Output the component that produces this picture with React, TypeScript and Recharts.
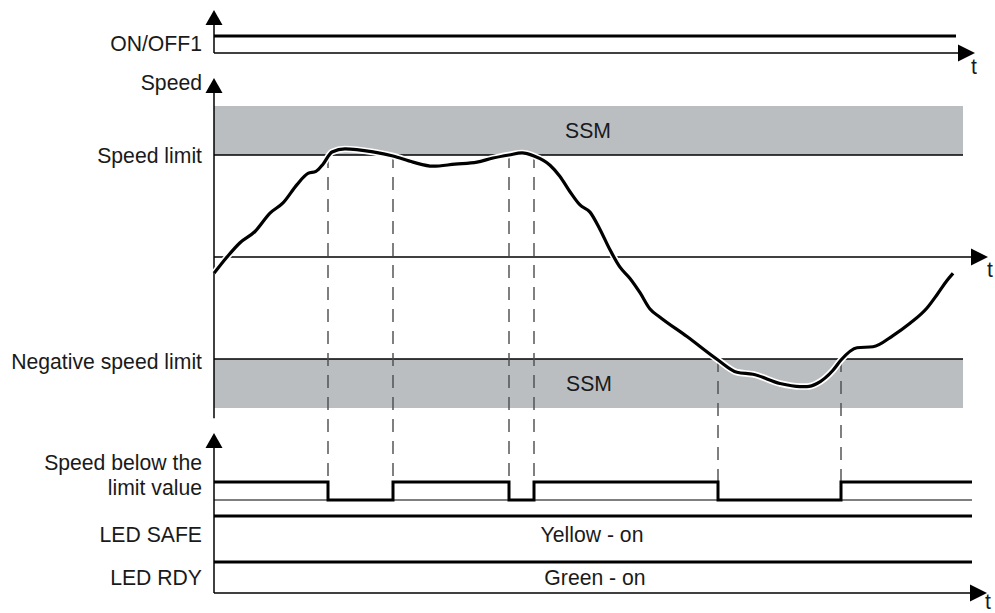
import React from "react";
import {
	ComposedChart,
	Line,
	XAxis,
	YAxis,
	ReferenceArea,
	ReferenceLine,
	ReferenceDot,
} from "recharts";

const W = 995;
const H = 613;

// speed trace, t in drawing time units, speed in % of the limit
const speedT = [
	0, 1.3, 2.6, 4.1, 5.6, 6.9, 8.3, 9.4, 10.2, 10.9, 11.8, 13.1, 15.9, 17.9,
	19.9, 21.9, 24.1, 26.3, 27.9, 29.5, 30.8, 32.0, 33.6, 34.6, 35.6, 36.6, 37.6,
	38.6, 39.6, 40.6, 41.6, 42.6, 43.6, 44.6, 47.3, 50.4, 52.3, 53.9, 56.6, 58.6,
	59.3, 60.3, 61.9, 62.7, 64.3, 65.9, 67.9, 69.6, 71.3, 72.3, 73.3, 73.9,
];
const speedV = [
	-16, 0, 14, 25, 43, 53, 71, 82, 84, 91, 103, 106, 103, 99, 93, 89, 91, 93, 97,
	100, 102, 99, 90, 79, 64, 51, 44, 27, 7, -10, -21, -35, -51, -59, -78, -101,
	-113, -115, -124, -127, -127, -124, -111, -101, -89, -88, -77, -65, -50, -37,
	-23, -16,
];

const SPEED_LIMIT = 100;
const SSM_EDGE = 148;

// moments the speed crosses a limit (dashed markers)
const crossT = [11.4, 17.9, 29.5, 32.0, 50.4, 62.7];
const crossAt = [100, 100, 100, 100, -100, -100];

// "speed below the limit value" signal
const belowT = [0, 11.4, 17.9, 29.5, 32.0, 50.4, 62.7, 75.8];
const belowV = [1, 0, 1, 0, 1, 0, 1, 1];

const onOffT = [0, 74.2];
const onOffV = [1, 1];
const ledT = [0, 75.8];
const safeV = [1, 1];
const rdyV = [1, 1];

const SSM_END = 74.9;

const toRows = (t: number[], v: number[]) => t.map((x, i) => ({ t: x, v: v[i] }));
const speedData = toRows(speedT, speedV);
const belowData = toRows(belowT, belowV);
const onOffData = toRows(onOffT, onOffV);
const safeData = toRows(ledT, safeV);
const rdyData = toRows(ledT, rdyV);

// y domain so value a sits at pixel pa and value b at pixel pb
const fit = (a: number, pa: number, b: number, pb: number): [number, number] => {
	const k = (a - b) / (pb - pa);
	const max = a + pa * k;
	return [max - H * k, max];
};
const pix = (d: [number, number], v: number) => ((d[1] - v) / (d[1] - d[0])) * H;
const val = (d: [number, number], p: number) => d[1] - (p * (d[1] - d[0])) / H;

const X_DOMAIN: [number, number] = [-21.4, 78.1];
const ONOFF_D = fit(1, 36, 0, 53);
const SPEED_D = fit(100, 155, -100, 359);
const BELOW_D = fit(1, 482, 0, 500);
const SAFE_D = fit(1, 516, 0, 562);
const RDY_D = fit(1, 562, 0, 593);

const dashBottom = val(SPEED_D, pix(BELOW_D, 1));

const FONT = "'Liberation Sans', Arial, Helvetica, sans-serif";
const FS = 21.2;

const upArrow = (p: any) => (
	<polygon
		points={`${p.cx},${p.cy} ${p.cx - 8.5},${p.cy + 15} ${p.cx + 8.5},${p.cy + 15}`}
		fill="#000"
	/>
);
const rightArrow = (p: any) => (
	<polygon
		points={`${p.cx},${p.cy} ${p.cx - 17},${p.cy - 8.5} ${p.cx - 17},${p.cy + 8.5}`}
		fill="#000"
	/>
);
const txt =
	(s: string, anchor: "start" | "middle" | "end" = "end") =>
	(p: any) => (
		<text
			x={p.cx}
			y={p.cy}
			textAnchor={anchor}
			dominantBaseline="central"
			fontFamily={FONT}
			fontSize={FS}
			fill="#1a1a1a"
		>
			{s}
		</text>
	);

const seg = (id: string, x1: number, y1: number, x2: number, y2: number, w = 1.5) => (
	<ReferenceLine
		key={`${id}-${x1}-${y1}-${x2}-${y2}`}
		yAxisId={id}
		segment={[
			{ x: x1, y: y1 },
			{ x: x2, y: y2 },
		]}
		stroke="#000"
		strokeWidth={w}
		ifOverflow="visible"
	/>
);
const dot = (id: string, x: number, y: number, shape: any, k: string) => (
	<ReferenceDot
		key={k}
		yAxisId={id}
		x={x}
		y={y}
		r={0}
		shape={shape}
		ifOverflow="visible"
	/>
);

const LABEL_T = -1.2;

const App: React.FC = () => {
	return (
		<div style={{ position: "absolute", left: 0, top: 0, width: W, height: H, background: "#fff" }}>
			<ComposedChart width={W} height={H} margin={{ top: 0, right: 0, bottom: 0, left: 0 }}>
				<XAxis dataKey="t" type="number" domain={X_DOMAIN} allowDataOverflow hide />
				<YAxis yAxisId="onoff" type="number" domain={ONOFF_D} allowDataOverflow hide />
				<YAxis yAxisId="speed" type="number" domain={SPEED_D} allowDataOverflow hide />
				<YAxis yAxisId="below" type="number" domain={BELOW_D} allowDataOverflow hide />
				<YAxis yAxisId="safe" type="number" domain={SAFE_D} allowDataOverflow hide />
				<YAxis yAxisId="rdy" type="number" domain={RDY_D} allowDataOverflow hide />

				{/* SSM bands */}
				<ReferenceArea
					yAxisId="speed"
					x1={0}
					x2={SSM_END}
					y1={SPEED_LIMIT}
					y2={SSM_EDGE}
					fill="#bbbec1"
					fillOpacity={1}
					stroke="none"
					ifOverflow="visible"
				/>
				<ReferenceArea
					yAxisId="speed"
					x1={0}
					x2={SSM_END}
					y1={-SSM_EDGE}
					y2={-SPEED_LIMIT}
					fill="#bbbec1"
					fillOpacity={1}
					stroke="none"
					ifOverflow="visible"
				/>
				{seg("speed", 0, SPEED_LIMIT, SSM_END, SPEED_LIMIT)}
				{seg("speed", 0, -SPEED_LIMIT, SSM_END, -SPEED_LIMIT)}

				{/* axes */}
				{seg("onoff", 0, 0, 0, 1.7)}
				{seg("onoff", 0, 0, 74.4, 0)}
				{dot("onoff", 0, 2.53, upArrow, "a1")}
				{dot("onoff", 76.1, 0, rightArrow, "a2")}

				{seg("speed", 0, -158, 0, 162)}
				{seg("speed", 0, 0, 75.8, 0)}
				{dot("speed", 0, 175.5, upArrow, "a3")}
				{dot("speed", 77.4, 0, rightArrow, "a4")}

				{seg("rdy", 0, 0, 0, 4.71)}
				{seg("rdy", 0, 0, 75.6, 0)}
				{dot("rdy", 0, 5.16, upArrow, "a5")}
				{dot("rdy", 77.3, 0, rightArrow, "a6")}
				{seg("below", 0, 0, 75.8, 0, 1.2)}

				{/* limit crossings */}
				{crossT.map((t, i) => (
					<ReferenceLine
						key={`d${i}`}
						yAxisId="speed"
						segment={[
							{ x: t, y: crossAt[i] },
							{ x: t, y: dashBottom },
						]}
						stroke="#4a4a4a"
						strokeWidth={1.4}
						strokeDasharray="13 9"
						ifOverflow="visible"
					/>
				))}

				<Line
					data={speedData}
					dataKey="v"
					yAxisId="speed"
					type="monotone"
					stroke="#fff"
					strokeWidth={6.5}
					dot={false}
					activeDot={false}
					isAnimationActive={false}
				/>
				<Line
					data={speedData}
					dataKey="v"
					yAxisId="speed"
					type="monotone"
					stroke="#000"
					strokeWidth={3.2}
					dot={false}
					activeDot={false}
					isAnimationActive={false}
				/>
				<Line
					data={onOffData}
					dataKey="v"
					yAxisId="onoff"
					type="linear"
					stroke="#000"
					strokeWidth={3}
					dot={false}
					activeDot={false}
					isAnimationActive={false}
				/>
				<Line
					data={belowData}
					dataKey="v"
					yAxisId="below"
					type="stepAfter"
					stroke="#000"
					strokeWidth={3}
					dot={false}
					activeDot={false}
					isAnimationActive={false}
				/>
				<Line
					data={safeData}
					dataKey="v"
					yAxisId="safe"
					type="linear"
					stroke="#000"
					strokeWidth={3}
					dot={false}
					activeDot={false}
					isAnimationActive={false}
				/>
				<Line
					data={rdyData}
					dataKey="v"
					yAxisId="rdy"
					type="linear"
					stroke="#000"
					strokeWidth={3}
					dot={false}
					activeDot={false}
					isAnimationActive={false}
				/>

				{/* texts */}
				{dot("onoff", LABEL_T, 0.55, txt("ON/OFF1"), "l1")}
				{dot("speed", LABEL_T, 171, txt("Speed"), "l2")}
				{dot("speed", LABEL_T, 100, txt("Speed limit"), "l3")}
				{dot("speed", LABEL_T, -102, txt("Negative speed limit"), "l4")}
				{dot("below", LABEL_T, 2.11, txt("Speed below the"), "l5")}
				{dot("below", LABEL_T, 0.72, txt("limit value"), "l6")}
				{dot("safe", LABEL_T, 0.6, txt("LED SAFE"), "l7")}
				{dot("rdy", LABEL_T, 0.5, txt("LED RDY"), "l8")}
				{dot("speed", 37.4, 124, txt("SSM", "middle"), "s1")}
				{dot("speed", 37.5, -124, txt("SSM", "middle"), "s2")}
				{dot("safe", 37.8, 0.6, txt("Yellow - on", "middle"), "y1")}
				{dot("rdy", 38.1, 0.5, txt("Green - on", "middle"), "g1")}
				{dot("onoff", 76.0, -0.82, txt("t", "middle"), "t1")}
				{dot("speed", 77.6, -12.7, txt("t", "middle"), "t2")}
				{dot("rdy", 77.4, -0.26, txt("t", "middle"), "t3")}
			</ComposedChart>
		</div>
	);
};

export default App;
